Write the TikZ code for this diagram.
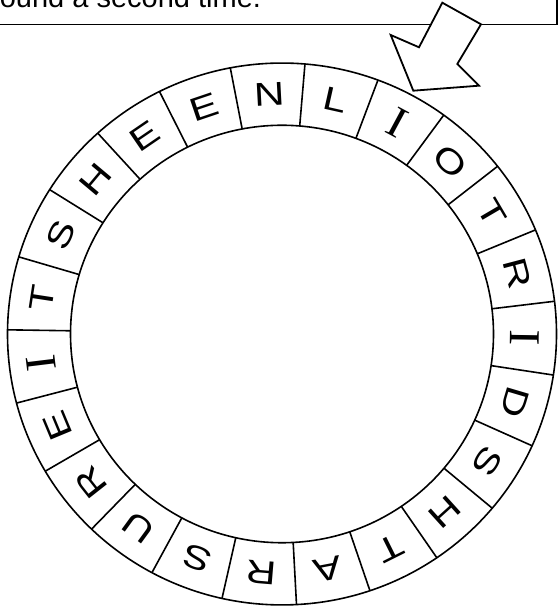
\documentclass[tikz,border=0pt]{standalone}
\usepackage{fontspec}
\setmainfont{Liberation Sans}
\newfontfamily\serifI{Liberation Serif}
\begin{document}
\begin{tikzpicture}[x=1pt,y=1pt,
  ring/.style={line width=1.6pt},
  letter/.style={inner sep=0pt, xscale=1.28, font=\fontsize{33}{33}\selectfont},
  iletter/.style={inner sep=0pt, xscale=1.1, font=\serifI\fontsize{44}{44}\selectfont},
  frame/.style={line width=1.8pt, fill=white},
]
\useasboundingbox (0,0) rectangle (558,610);
\clip (0,0) rectangle (558,610);
% instruction box (cut off at the top)
\draw[frame] (-20,585.5) rectangle (557,700);
\node[anchor=base west, inner sep=0pt, font=\fontsize{29}{29}\selectfont] (caption) at (-10,602) {round a second time.};
% block arrow
\draw[frame, line join=miter] (442.3,607.3) -- (481,585.7) -- (457.3,546) -- (479,524.3)
  -- (413.3,519.3) -- (390.7,575) -- (419,562.7) -- cycle;
% letter ring
\begin{scope}[shift={(282,276)}, yscale=0.987]
  \coordinate (c) at (0,0);
  \draw[ring] (c) circle[radius=274.5];
  \draw[ring] (c) circle[radius=211.5];
  \foreach \k in {0,...,22}
    \draw[ring] (85.2-\k*15.652:211.5) -- (85.2-\k*15.652:274.5);
  \foreach \l/\s [count=\i from 0] in {N/letter,L/letter,I/iletter,O/letter,T/letter,R/letter,I/iletter,D/letter,S/letter,H/letter,T/letter,A/letter,R/letter,S/letter,U/letter,R/letter,E/letter,I/iletter,T/letter,S/letter,H/letter,E/letter,E/letter}
    \node[rotate=3.03-\i*15.652, \s] (l\i) at (93.03-\i*15.652:243) {\l};
\end{scope}
\end{tikzpicture}
\end{document}
